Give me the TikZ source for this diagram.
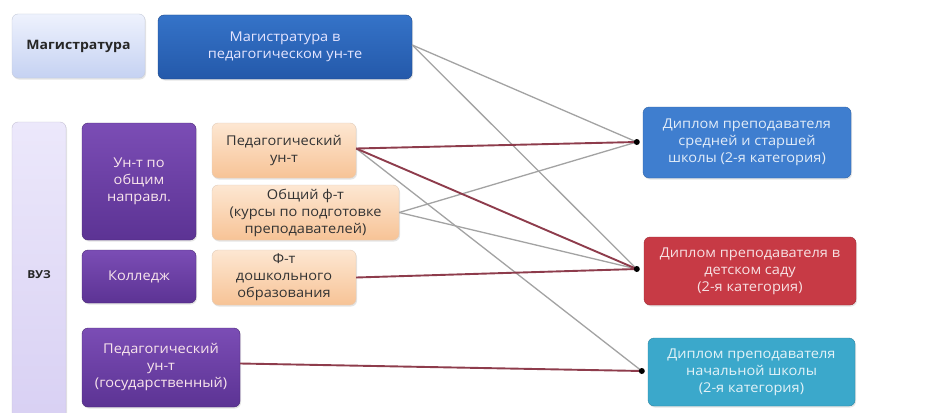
\documentclass[tikz,border=0pt]{standalone}
\usepackage{fontspec}
\setmainfont{Open Sans}[FakeStretch=1.08]
\usetikzlibrary{shadows}
\definecolor{magA}{HTML}{EEF2FD}
\definecolor{magB}{HTML}{C5D2F2}
\definecolor{blueA}{HTML}{3573C8}
\definecolor{blueB}{HTML}{2459AA}
\definecolor{vuzA}{HTML}{ECE8FB}
\definecolor{vuzB}{HTML}{D8D0F3}
\definecolor{purA}{HTML}{7B4DB5}
\definecolor{purB}{HTML}{5C3394}
\definecolor{orA}{HTML}{FDE7D2}
\definecolor{orB}{HTML}{F7C396}
\definecolor{r1c}{HTML}{3F7ECF}
\definecolor{r2c}{HTML}{C73A45}
\definecolor{r3c}{HTML}{3BA8CB}
\definecolor{lgray}{HTML}{A3A3A3}
\definecolor{lred}{HTML}{8E3C4C}
\begin{document}
\begin{tikzpicture}[x=1pt,y=-1pt,
  box/.style={rounded corners=6pt, align=center, inner sep=2pt, font=\fontsize{13.5}{17}\selectfont,
    drop shadow={opacity=0.2, shadow xshift=1pt, shadow yshift=-1.5pt}},
  magbox/.style={box, top color=magA, bottom color=magB, draw=magB!80!black!60, text=black!85, font=\fontsize{13}{17}\selectfont\bfseries},
  bluebox/.style={box, top color=blueA, bottom color=blueB, draw=blueB!80!black, text=white!90!blue},
  vuzbox/.style={box, top color=vuzA, bottom color=vuzB, draw=vuzB!80!black!70},
  purbox/.style={box, top color=purA, bottom color=purB, draw=purB!80!black, text=white!90!purple},
  orbox/.style={box, top color=orA, bottom color=orB, draw=orB!80!black!50, text=black!80},
  rbox/.style={box, fill=#1, draw=#1!80!black, text=white!85!#1},
  gline/.style={draw=lgray, line width=1.3pt},
  rline/.style={draw=lred, line width=1.9pt},
  dot/.style={circle, fill=black, inner sep=0pt, minimum size=6pt}
]
\clip (0,0) rectangle (931,412);
\fill[white] (0,0) rectangle (931,412);

\node[magbox, minimum width=133pt, minimum height=64pt] (mag) at (78.5,46) {Магистратура};
\node[bluebox, minimum width=254pt, minimum height=64pt] (magp) at (285,47) {Магистратура в\\педагогическом ун-те};

\node[vuzbox, minimum width=54pt, minimum height=300pt] (vuz) at (39,272) {};
\node[font=\fontsize{11}{14}\selectfont\bfseries, text=black!85] (vuzt) at (39,275) {ВУЗ};

\node[purbox, minimum width=114pt, minimum height=117pt] (un) at (139,181.5) {Ун-т по\\общим\\направл.};
\node[purbox, minimum width=114pt, minimum height=53pt] (kol) at (139,276.5) {Колледж};
\node[purbox, minimum width=158pt, minimum height=79pt] (pg) at (161,367.5) {Педагогический\\ун-т\\(государственный)};

\node[orbox, minimum width=144pt, minimum height=55pt] (o1) at (284,150.5) {Педагогический\\ун-т};
\node[orbox, minimum width=187pt, minimum height=55pt] (o2) at (305.5,212.5) {Общий ф-т\\(курсы по подготовке\\преподавателей)};
\node[orbox, minimum width=144pt, minimum height=55pt] (o3) at (284,277.5) {Ф-т\\дошкольного\\образования};

\node[rbox=r1c, minimum width=208pt, minimum height=71pt] (r1) at (747,142.5) {Диплом преподавателя\\средней и старшей\\школы (2-я категория)};
\node[rbox=r2c, minimum width=212pt, minimum height=68pt] (r2) at (750,271) {Диплом преподавателя в\\детском саду\\(2-я категория)};
\node[rbox=r3c, minimum width=207pt, minimum height=68pt] (r3) at (751.5,372) {Диплом преподавателя\\начальной школы\\(2-я категория)};

\coordinate (t1) at ([xshift=-6pt,yshift=0.5pt]r1.west);
\coordinate (t2) at ([xshift=-7pt,yshift=2pt]r2.west);
\coordinate (t3) at ([xshift=-6pt,yshift=1pt]r3.west);
\coordinate (s0) at ([yshift=2pt]magp.east);
\coordinate (s1) at ([yshift=2pt]o1.east);
\coordinate (s2) at (o2.east);
\coordinate (s3) at (o3.east);
\coordinate (s4) at ([yshift=4pt]pg.east);

\draw[gline] (s0) -- (t1);
\draw[gline] (s0) -- (t2);
\draw[gline] (s1) -- (t3);
\draw[gline] (s2) -- (t1);
\draw[gline] (s2) -- (t2);
\draw[rline] (s1) -- (t1);
\draw[rline] (s1) -- (t2);
\draw[rline] (s3) -- (t2);
\draw[rline] (s4) -- (t3);

\node[dot] (d1) at (t1) {};
\node[dot] (d2) at (t2) {};
\node[dot] (d3) at (t3) {};
\end{tikzpicture}
\end{document}
